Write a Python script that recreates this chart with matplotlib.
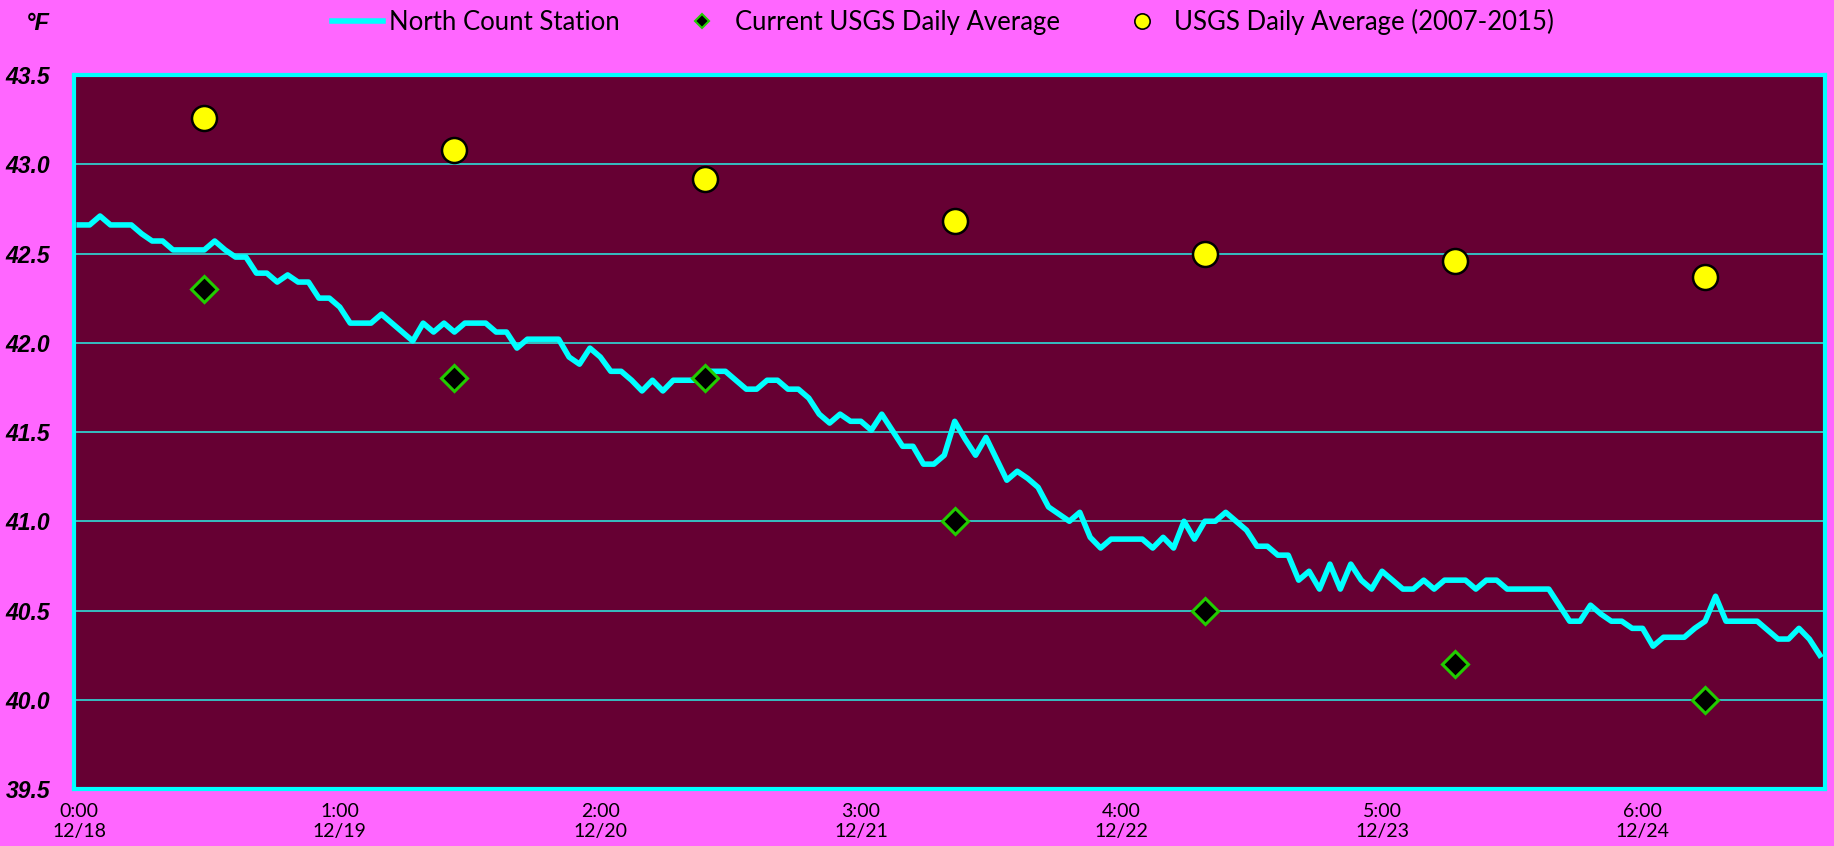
import numpy as np
import matplotlib
matplotlib.use("Agg")
import matplotlib.pyplot as plt
from matplotlib.lines import Line2D

# hourly readings, North Count Station (deg F), 12/18 0:00 onwards
north = [
    42.66, 42.66, 42.71, 42.66, 42.66, 42.66, 42.61, 42.57, 42.57, 42.52,
    42.52, 42.52, 42.52, 42.57, 42.52, 42.48, 42.48, 42.39, 42.39, 42.34,
    42.38, 42.34, 42.34, 42.25, 42.25, 42.20, 42.11, 42.11, 42.11, 42.16,
    42.11, 42.06, 42.01, 42.11, 42.06, 42.11, 42.06, 42.11, 42.11, 42.11,
    42.06, 42.06, 41.97, 42.02, 42.02, 42.02, 42.02, 41.92, 41.88, 41.97,
    41.92, 41.84, 41.84, 41.79, 41.73, 41.79, 41.73, 41.79, 41.79, 41.79,
    41.84, 41.84, 41.84, 41.79, 41.74, 41.74, 41.79, 41.79, 41.74, 41.74,
    41.69, 41.60, 41.55, 41.60, 41.56, 41.56, 41.51, 41.60, 41.51, 41.42,
    41.42, 41.32, 41.32, 41.37, 41.56, 41.46, 41.37, 41.47, 41.35, 41.23,
    41.28, 41.24, 41.19, 41.08, 41.04, 41.00, 41.05, 40.91, 40.85, 40.90,
    40.90, 40.90, 40.90, 40.85, 40.91, 40.85, 41.00, 40.90, 41.00, 41.00,
    41.05, 41.00, 40.95, 40.86, 40.86, 40.81, 40.81, 40.67, 40.72, 40.62,
    40.76, 40.62, 40.76, 40.67, 40.62, 40.72, 40.67, 40.62, 40.62, 40.67,
    40.62, 40.67, 40.67, 40.67, 40.62, 40.67, 40.67, 40.62, 40.62, 40.62,
    40.62, 40.62, 40.53, 40.44, 40.44, 40.53, 40.48, 40.44, 40.44, 40.40,
    40.40, 40.30, 40.35, 40.35, 40.35, 40.40, 40.44, 40.58, 40.44, 40.44,
    40.44, 40.44, 40.39, 40.34, 40.34, 40.40, 40.34, 40.25,
]
hours = np.arange(len(north))

# daily values plotted at noon of each day
day_hours = [12, 36, 60, 84, 108, 132, 156]
usgs_current = [42.3, 41.8, 41.8, 41.0, 40.5, 40.2, 40.0]
usgs_hist = [43.26, 43.08, 42.92, 42.68, 42.50, 42.46, 42.37]

tick_pos = [0, 25, 50, 75, 100, 125, 150]
tick_labels = ["0:00\n12/18", "1:00\n12/19", "2:00\n12/20", "3:00\n12/21",
               "4:00\n12/22", "5:00\n12/23", "6:00\n12/24"]

PINK = "#FF66FF"
PLUM = "#660033"
CYAN = "#00FFFF"
GREEN = "#22CC00"

fig = plt.figure(figsize=(18.34, 8.46), dpi=100, facecolor=PINK)
ax = fig.add_axes([74 / 1834, 57 / 846, 1751 / 1834, 714 / 846])
ax.set_facecolor(PLUM)

ax.set_axisbelow(True)
ax.yaxis.grid(True, color="#33CCCC", lw=1.3)

ax.plot(hours, north, color=CYAN, lw=4, solid_joinstyle="round", zorder=3)
ax.plot(day_hours, usgs_current, ls="none", marker="D", ms=13, mfc="black",
        mec=GREEN, mew=2.2, zorder=4)
ax.plot(day_hours, usgs_hist, ls="none", marker="o", ms=18, mfc="#FFFF00",
        mec="black", mew=1.8, zorder=4)

ax.set_xlim(-0.5, len(north) - 0.5)
ax.set_ylim(39.5, 43.5)
ax.set_yticks(np.arange(39.5, 43.51, 0.5))
ax.set_yticklabels([f"{v:.1f}" for v in np.arange(39.5, 43.51, 0.5)],
                   fontfamily="Liberation Sans", fontweight="bold",
                   fontstyle="italic", fontsize=16.5)
ax.set_xticks(tick_pos)
ax.set_xticklabels(tick_labels, fontfamily="Lato", fontsize=14, linespacing=1.22)
ax.tick_params(axis="both", length=0)
ax.tick_params(axis="x", pad=10)
ax.tick_params(axis="y", pad=17)

for s in ax.spines.values():
    s.set_color(CYAN)
    s.set_linewidth(3)

fig.text(38 / 1834, 1 - 24 / 846, "°F", fontfamily="Liberation Sans",
         fontweight="bold", fontstyle="italic", fontsize=17,
         ha="center", va="center")

handles = [
    Line2D([], [], color=CYAN, lw=4),
    Line2D([], [], ls="none", marker="D", ms=7, mfc="black", mec=GREEN, mew=1.5),
    Line2D([], [], ls="none", marker="o", ms=11, mfc="#FFFF00", mec="black", mew=1.2),
]
labels = ["North Count Station", "Current USGS Daily Average",
          "USGS Daily Average (2007-2015)"]
fig.legend(handles, labels, loc="center", bbox_to_anchor=(0.514, 1 - 22 / 846),
           ncol=3, frameon=False, handlelength=2.0, handletextpad=0.25,
           columnspacing=2.2, prop={"family": "Lato", "size": 18.5})

fig.savefig("out.png", dpi=100, facecolor=PINK)
